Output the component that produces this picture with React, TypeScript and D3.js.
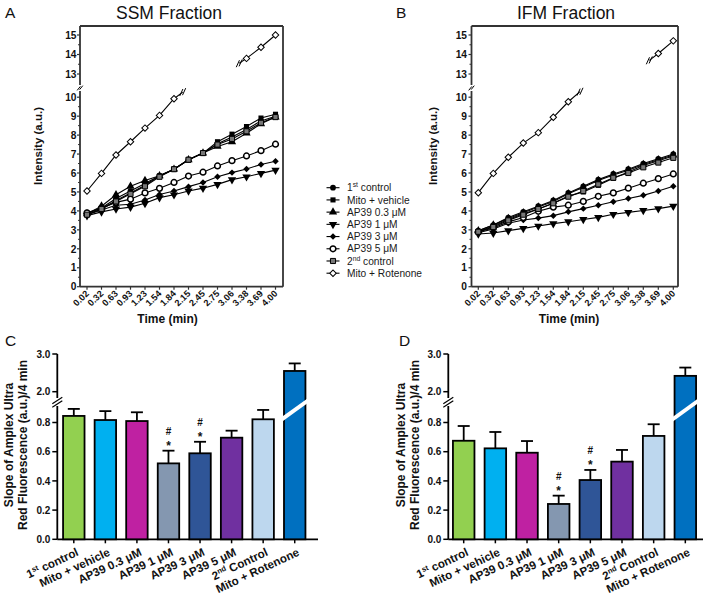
import React from 'react';
import * as d3 from 'd3';

const FONT = '"Liberation Sans", Arial, Helvetica, sans-serif';

// ---------- line-chart data ----------
const timeLabels = ['0.02', '0.32', '0.63', '0.93', '1.23', '1.54', '1.84', '2.15', '2.45', '2.75', '3.06', '3.38', '3.69', '4.00'];
const seriesNames = ['1st control', 'Mito + vehicle', 'AP39 0.3 μM', 'AP39 1 μM', 'AP39 3 μM', 'AP39 5 μM', '2nd control', 'Mito + Rotenone'];
const markerKinds = ['circle', 'square', 'triUp', 'triDown', 'diamond', 'openCircle', 'graySquare', 'openDiamond'];

const ssmFirstControl = [3.85, 4.15, 4.65, 5.05, 5.45, 5.85, 6.2, 6.7, 7.05, 7.55, 7.9, 8.3, 8.75, 9.0];
const ssmMitoVehicle = [3.8, 4.1, 4.55, 4.95, 5.35, 5.85, 6.2, 6.7, 7.05, 7.65, 8.05, 8.45, 8.9, 9.1];
const ssmAP39_03 = [3.85, 4.25, 4.85, 5.3, 5.6, 5.85, 6.2, 6.7, 7.05, 7.4, 7.65, 8.1, 8.6, 8.95];
const ssmAP39_1 = [3.75, 3.95, 4.1, 4.2, 4.4, 4.7, 4.85, 5.05, 5.2, 5.4, 5.65, 5.8, 5.98, 6.15];
const ssmAP39_3 = [3.8, 4.05, 4.3, 4.35, 4.57, 4.87, 5.05, 5.28, 5.5, 5.8, 6.02, 6.21, 6.45, 6.62];
const ssmAP39_5 = [3.9, 4.15, 4.45, 4.62, 4.95, 5.19, 5.5, 5.84, 6.04, 6.37, 6.65, 6.9, 7.18, 7.52];
const ssmSecondControl = [3.8, 4.1, 4.5, 4.9, 5.3, 5.8, 6.2, 6.7, 7.05, 7.5, 7.8, 8.2, 8.65, 8.95];
const ssmRotenone = [5.05, 5.98, 6.95, 7.65, 8.37, 9.04, 9.92, null, null, null, null, 13.8, 14.37, 15.0];
const ssmRotenoneBreaks = [{ pos: 6.6, v: 10.27 }, { pos: 10.5, v: 13.55 }];

const ifmFirstControl = [2.95, 3.25, 3.65, 3.95, 4.25, 4.55, 4.95, 5.3, 5.65, 5.95, 6.2, 6.5, 6.75, 7.0];
const ifmMitoVehicle = [2.9, 3.2, 3.55, 3.85, 4.1, 4.4, 4.78, 5.0, 5.35, 5.72, 6.05, 6.4, 6.65, 6.9];
const ifmAP39_03 = [2.95, 3.25, 3.6, 3.9, 4.2, 4.5, 4.9, 5.25, 5.6, 5.9, 6.15, 6.45, 6.7, 6.95];
const ifmAP39_1 = [2.78, 2.83, 2.96, 3.08, 3.2, 3.33, 3.43, 3.55, 3.66, 3.82, 3.92, 4.02, 4.12, 4.25];
const ifmAP39_3 = [2.85, 3.05, 3.35, 3.52, 3.62, 3.75, 3.95, 4.12, 4.3, 4.48, 4.65, 4.82, 5.05, 5.3];
const ifmAP39_5 = [2.9, 3.1, 3.42, 3.65, 3.98, 4.2, 4.3, 4.5, 4.77, 4.95, 5.2, 5.46, 5.7, 5.95];
const ifmSecondControl = [2.9, 3.15, 3.5, 3.8, 4.1, 4.4, 4.75, 5.05, 5.4, 5.75, 6.0, 6.3, 6.55, 6.8];
const ifmRotenone = [4.96, 5.98, 6.83, 7.58, 8.13, 8.94, 9.76, null, null, null, null, null, 14.05, 14.7];
const ifmRotenoneBreaks = [{ pos: 6.78, v: 10.29 }, { pos: 11.4, v: 13.7 }];

const lowerTicks = [0, 1, 2, 3, 4, 5, 6, 7, 8, 9, 10];
const upperTicks = [13, 14, 15];

// ---------- bar-chart data ----------
const barCategories = ['1st control', 'Mito + vehicle', 'AP39 0.3 μM', 'AP39 1 μM', 'AP39 3 μM', 'AP39 5 μM', '2nd Control', 'Mito + Rotenone'];
const barColors = ['#92D050', '#00B0F0', '#BF21A2', '#8497B0', '#2F5597', '#7030A0', '#BDD7EE', '#0070C0'];
const ssmSlopeMeans = [0.845, 0.817, 0.81, 0.52, 0.589, 0.696, 0.822, 2.55];
const ssmSlopeErrors = [0.048, 0.061, 0.06, 0.087, 0.079, 0.048, 0.064, 0.2];
const ifmSlopeMeans = [0.675, 0.623, 0.593, 0.242, 0.406, 0.532, 0.708, 2.42];
const ifmSlopeErrors = [0.101, 0.112, 0.08, 0.057, 0.069, 0.08, 0.08, 0.22];
const significant = [false, false, false, true, true, false, false, false];
const barLowerTicks = [0, 0.2, 0.4, 0.6, 0.8];
const barUpperTicks = [2, 3];

// ---------- helpers ----------
function labelWithSup(name: string, supSize: number) {
  const m = name.match(/^(\d)(st|nd)(.*)$/);
  if (!m) return name;
  return (
    <>
      {m[1]}
      <tspan fontSize={supSize} dy={-4}>{m[2]}</tspan>
      <tspan dy={4}>{m[3]}</tspan>
    </>
  );
}

const symCircle = d3.symbol().type(d3.symbolCircle).size(26)() as string;
const symSquare = d3.symbol().type(d3.symbolSquare).size(26)() as string;
const symTri = d3.symbol().type(d3.symbolTriangle).size(30)() as string;
const symDiamond = d3.symbol().type(d3.symbolSquare).size(21)() as string;

function Marker({ kind, x, y }: { kind: string; x: number; y: number }) {
  const t = `translate(${x},${y})`;
  switch (kind) {
    case 'circle':
      return <path d={symCircle} transform={t} fill="#000" />;
    case 'square':
      return <path d={symSquare} transform={t} fill="#000" />;
    case 'triUp':
      return <path d={symTri} transform={t} fill="#000" />;
    case 'triDown':
      return <path d={symTri} transform={`${t} rotate(180)`} fill="#000" />;
    case 'diamond':
      return <path d={symDiamond} transform={`${t} rotate(45)`} fill="#000" />;
    case 'openCircle':
      return <path d={symCircle} transform={t} fill="#fff" stroke="#000" strokeWidth={1.5} />;
    case 'graySquare':
      return <path d={symSquare} transform={t} fill="#777" stroke="#000" strokeWidth={1} />;
    case 'openDiamond':
      return <path d={symDiamond} transform={`${t} rotate(45)`} fill="#fff" stroke="#000" strokeWidth={1} />;
    default:
      return null;
  }
}

function BreakMark({ x, y, len = 3.5, gap = 1.4 }: { x: number; y: number; len?: number; gap?: number }) {
  return (
    <g stroke="#000" strokeWidth={1}>
      {[-gap, gap].map((d, i) => (
        <line key={i} x1={x - 1.6 + d} y1={y + len - d * 0.3} x2={x + 1.6 + d} y2={y - len - d * 0.3} />
      ))}
    </g>
  );
}

type LineCfg = {
  axisX: number; rightX: number; topY: number; bottomY: number;
  xFirst: number; xLast: number; letter: string; letterX: number;
  title: string; titleX: number; yLabelX: number; timeX: number; tickLabelEnd: number;
};

const ssmCfg: LineCfg = { axisX: 80, rightX: 283, topY: 26, bottomY: 286.7, xFirst: 87, xLast: 275.5, letter: 'A', letterX: 5, title: 'SSM Fraction', titleX: 169, yLabelX: 42, timeX: 167.5, tickLabelEnd: 76.5 };
const ifmCfg: LineCfg = { axisX: 471.5, rightX: 678, topY: 26, bottomY: 286.7, xFirst: 478.3, xLast: 673.3, letter: 'B', letterX: 396, title: 'IFM Fraction', titleX: 566, yLabelX: 437, timeX: 569, tickLabelEnd: 467 };

function LinePanel({ cfg, series, breaks }: { cfg: LineCfg; series: (number | null)[][]; breaks: { pos: number; v: number }[] }) {
  const x = d3.scalePoint<string>().domain(timeLabels).range([cfg.xFirst, cfg.xLast]);
  const step = x.step();
  const yLow = d3.scaleLinear().domain([0, 10]).range([cfg.bottomY, 97.2]);
  const yHigh = d3.scaleLinear().domain([13, 15]).range([74, 35]);
  const yv = (v: number) => (v > 11.5 ? yHigh(v) : yLow(v));
  const line = d3
    .line<number | null>()
    .defined((d) => d != null)
    .x((_, i) => x(timeLabels[i]) as number)
    .y((d) => yv(d as number));

  const rot = series[7];
  const lastLowIdx = 6;
  const firstHighIdx = rot.findIndex((d, i) => i > lastLowIdx && d != null);
  const bLow = { x: cfg.xFirst + breaks[0].pos * step, y: yv(breaks[0].v) };
  const bHigh = { x: cfg.xFirst + breaks[1].pos * step, y: yv(breaks[1].v) };
  const axisBreakY = 88;
  const minor = d3.range(0.5, 10, 1);
  const minorUp = [13.5, 14.5];

  return (
    <g>
      <text x={cfg.letterX} y={17.5} fontSize={15.5} fill="#111">{cfg.letter}</text>
      <text x={cfg.titleX} y={19} fontSize={17.5} textAnchor="middle" fill="#111">{cfg.title}</text>
      {/* frame */}
      <g stroke="#333" strokeWidth={1.8} fill="none">
        <line x1={cfg.axisX} y1={cfg.topY} x2={cfg.rightX} y2={cfg.topY} />
        <line x1={cfg.rightX} y1={cfg.topY} x2={cfg.rightX} y2={cfg.bottomY} />
        <line x1={cfg.axisX} y1={cfg.bottomY} x2={cfg.rightX} y2={cfg.bottomY} />
        <line x1={cfg.axisX} y1={cfg.bottomY} x2={cfg.axisX} y2={axisBreakY + 3} />
        <line x1={cfg.axisX} y1={axisBreakY - 3} x2={cfg.axisX} y2={cfg.topY} />
      </g>
      <BreakMark x={cfg.axisX} y={axisBreakY} len={2} gap={1.2} />
      {/* y ticks */}
      {lowerTicks.map((t) => (
        <g key={`l${t}`}>
          <line x1={cfg.axisX - 3} x2={cfg.axisX} y1={yLow(t)} y2={yLow(t)} stroke="#333" strokeWidth={1.2} />
          <text x={cfg.tickLabelEnd} y={yLow(t) + 3.7} fontSize={10.2} fontWeight="bold" textAnchor="end" fill="#111">{t}</text>
        </g>
      ))}
      {minor.map((t) => (
        <line key={`m${t}`} x1={cfg.axisX - 2} x2={cfg.axisX} y1={yLow(t)} y2={yLow(t)} stroke="#333" strokeWidth={1} />
      ))}
      {upperTicks.map((t) => (
        <g key={`u${t}`}>
          <line x1={cfg.axisX - 3} x2={cfg.axisX} y1={yHigh(t)} y2={yHigh(t)} stroke="#333" strokeWidth={1.2} />
          <text x={cfg.tickLabelEnd} y={yHigh(t) + 3.7} fontSize={10.2} fontWeight="bold" textAnchor="end" fill="#111">{t}</text>
        </g>
      ))}
      {minorUp.map((t) => (
        <line key={`mu${t}`} x1={cfg.axisX - 2} x2={cfg.axisX} y1={yHigh(t)} y2={yHigh(t)} stroke="#333" strokeWidth={1} />
      ))}
      {/* x ticks */}
      {timeLabels.map((lab) => {
        const px = x(lab) as number;
        return (
          <g key={lab}>
            <line x1={px} x2={px} y1={cfg.bottomY} y2={cfg.bottomY + 3} stroke="#333" strokeWidth={1.2} />
            <text transform={`translate(${px + 2.5},${cfg.bottomY + 7.5}) rotate(-45)`} fontSize={9.2} fontWeight="bold" textAnchor="end" fill="#111">{lab}</text>
          </g>
        );
      })}
      <text x={cfg.timeX} y={323.3} fontSize={12} fontWeight="bold" textAnchor="middle" fill="#111">Time (min)</text>
      <text transform={`translate(${cfg.yLabelX},146) rotate(-90)`} fontSize={11.5} fontWeight="bold" textAnchor="middle" fill="#111">Intensity (a.u.)</text>
      {/* lines */}
      <g fill="none" stroke="#000" strokeWidth={1.1}>
        {series.map((s, i) => (
          <path key={i} d={line(s) as string} />
        ))}
        <line x1={x(timeLabels[lastLowIdx]) as number} y1={yv(rot[lastLowIdx] as number)} x2={bLow.x} y2={bLow.y} />
        <line x1={bHigh.x} y1={bHigh.y} x2={x(timeLabels[firstHighIdx]) as number} y2={yv(rot[firstHighIdx] as number)} />
      </g>
      <BreakMark x={bLow.x} y={bLow.y} />
      <BreakMark x={bHigh.x} y={bHigh.y} />
      {/* markers */}
      {series.map((s, i) =>
        s.map((v, j) => (v == null ? null : <Marker key={`${i}-${j}`} kind={markerKinds[i]} x={x(timeLabels[j]) as number} y={yv(v)} />))
      )}
    </g>
  );
}

function Legend() {
  const y = d3.scalePoint<string>().domain(seriesNames).range([187.7, 273.2]);
  return (
    <g>
      {seriesNames.map((n, i) => {
        const yy = y(n) as number;
        return (
          <g key={n}>
            <line x1={326.5} x2={339.5} y1={yy} y2={yy} stroke="#000" strokeWidth={1.1} />
            <Marker kind={markerKinds[i]} x={333} y={yy} />
            <text x={347} y={yy + 3.6} fontSize={10.2} fill="#1a1a1a">{labelWithSup(n, 6.8)}</text>
          </g>
        );
      })}
    </g>
  );
}

type BarCfg = { axisX: number; axisEnd: number; c0: number; step: number; letter: string; letterX: number; lab1X: number; lab2X: number };
const ssmBarCfg: BarCfg = { axisX: 57.3, axisEnd: 318, c0: 73.8, step: 31.56, letter: 'C', letterX: 5, lab1X: 13, lab2X: 27 };
const ifmBarCfg: BarCfg = { axisX: 448.3, axisEnd: 703, c0: 463.7, step: 31.66, letter: 'D', letterX: 399, lab1X: 404.5, lab2X: 419 };

function BarPanel({ cfg, means, errs }: { cfg: BarCfg; means: number[]; errs: number[] }) {
  const x = d3
    .scaleBand<string>()
    .domain(barCategories)
    .range([cfg.c0 - cfg.step / 2, cfg.c0 + 7.5 * cfg.step])
    .paddingInner(0.32)
    .paddingOuter(0.16);
  const bw = x.bandwidth();
  const yLow = d3.scaleLinear().domain([0, 0.8]).range([539.3, 422.5]);
  const yHigh = d3.scaleLinear().domain([2, 3]).range([391.7, 354]);
  const yv = (v: number) => (v > 1.5 ? yHigh(v) : yLow(v));
  const y0 = yLow(0);
  const breakY = 402;

  return (
    <g>
      <text x={cfg.letterX} y={346} fontSize={15.5} fill="#111">{cfg.letter}</text>
      {/* y axis */}
      <g stroke="#000" strokeWidth={1.8}>
        <line x1={cfg.axisX} x2={cfg.axisX} y1={y0} y2={breakY + 4} />
        <line x1={cfg.axisX} x2={cfg.axisX} y1={breakY - 4} y2={yHigh(3)} />
        <line x1={cfg.axisX} x2={cfg.axisEnd} y1={y0} y2={y0} />
      </g>
      <g stroke="#000" strokeWidth={1.2}>
        {[-1.8, 1.8].map((d) => (
          <line key={d} x1={cfg.axisX - 5} y1={breakY + 3.5 + d} x2={cfg.axisX + 5} y2={breakY - 3 + d} />
        ))}
      </g>
      {barLowerTicks.map((t) => (
        <g key={`bl${t}`}>
          <line x1={cfg.axisX - 5} x2={cfg.axisX} y1={yLow(t)} y2={yLow(t)} stroke="#000" strokeWidth={1.5} />
          <text x={cfg.axisX - 7} y={yLow(t) + 3.6} fontSize={10} fontWeight="bold" textAnchor="end" fill="#111">{t.toFixed(1)}</text>
        </g>
      ))}
      {barUpperTicks.map((t) => (
        <g key={`bu${t}`}>
          <line x1={cfg.axisX - 5} x2={cfg.axisX} y1={yHigh(t)} y2={yHigh(t)} stroke="#000" strokeWidth={1.5} />
          <text x={cfg.axisX - 7} y={yHigh(t) + 3.6} fontSize={10} fontWeight="bold" textAnchor="end" fill="#111">{t.toFixed(1)}</text>
        </g>
      ))}
      <text transform={`translate(${cfg.lab1X},445) rotate(-90)`} fontSize={12} fontWeight="bold" textAnchor="middle" fill="#111">Slope of Amplex Ultra</text>
      <text transform={`translate(${cfg.lab2X},445) rotate(-90)`} fontSize={12} fontWeight="bold" textAnchor="middle" fill="#111">Red Fluorescence (a.u.)/4 min</text>
      {/* bars */}
      {barCategories.map((c, i) => {
        const bx = x(c) as number;
        const cx = bx + bw / 2;
        const top = yv(means[i]);
        const errTop = yv(means[i] + errs[i]);
        const isBroken = means[i] > 1.5;
        const yc = yLow(0.885);
        const slope = -0.72;
        const xl = bx - 2;
        const xr = bx + bw + 2;
        const ya = (xx: number) => yc + slope * (xx - cx);
        return (
          <g key={c}>
            <line x1={cx} x2={cx} y1={top} y2={errTop} stroke="#000" strokeWidth={1.8} />
            <line x1={cx - 6} x2={cx + 6} y1={errTop} y2={errTop} stroke="#000" strokeWidth={1.8} />
            <rect x={bx} y={top} width={bw} height={y0 - top} fill={barColors[i]} stroke="#000" strokeWidth={1.8} />
            {isBroken && (
              <polygon
                points={[[xl, ya(xl) - 2.4], [xr, ya(xr) - 2.4], [xr, ya(xr) + 2.4], [xl, ya(xl) + 2.4]].map((p) => p.join(',')).join(' ')}
                fill="#fff"
              />
            )}
            <line x1={cx} x2={cx} y1={y0} y2={y0 + 4} stroke="#000" strokeWidth={1.5} />
            <text transform={`translate(${cx + 5.5},555) rotate(-25)`} fontSize={11.6} fontWeight="bold" textAnchor="end" fill="#111">
              {labelWithSup(c, 7.5)}
            </text>
            {significant[i] && (
              <g fontWeight="bold" textAnchor="middle" fill="#111">
                <text x={cx} y={errTop - 16} fontSize={10}>#</text>
                <text x={cx} y={errTop - 1} fontSize={12}>*</text>
              </g>
            )}
          </g>
        );
      })}
    </g>
  );
}

export default function App() {
  const ssmSeries = [ssmFirstControl, ssmMitoVehicle, ssmAP39_03, ssmAP39_1, ssmAP39_3, ssmAP39_5, ssmSecondControl, ssmRotenone];
  const ifmSeries = [ifmFirstControl, ifmMitoVehicle, ifmAP39_03, ifmAP39_1, ifmAP39_3, ifmAP39_5, ifmSecondControl, ifmRotenone];
  return (
    <svg width={709} height={598} style={{ position: 'absolute', left: 0, top: 0 }} fontFamily={FONT}>
      <rect width={709} height={598} fill="#fff" />
      <LinePanel cfg={ssmCfg} series={ssmSeries} breaks={ssmRotenoneBreaks} />
      <LinePanel cfg={ifmCfg} series={ifmSeries} breaks={ifmRotenoneBreaks} />
      <Legend />
      <BarPanel cfg={ssmBarCfg} means={ssmSlopeMeans} errs={ssmSlopeErrors} />
      <BarPanel cfg={ifmBarCfg} means={ifmSlopeMeans} errs={ifmSlopeErrors} />
    </svg>
  );
}
